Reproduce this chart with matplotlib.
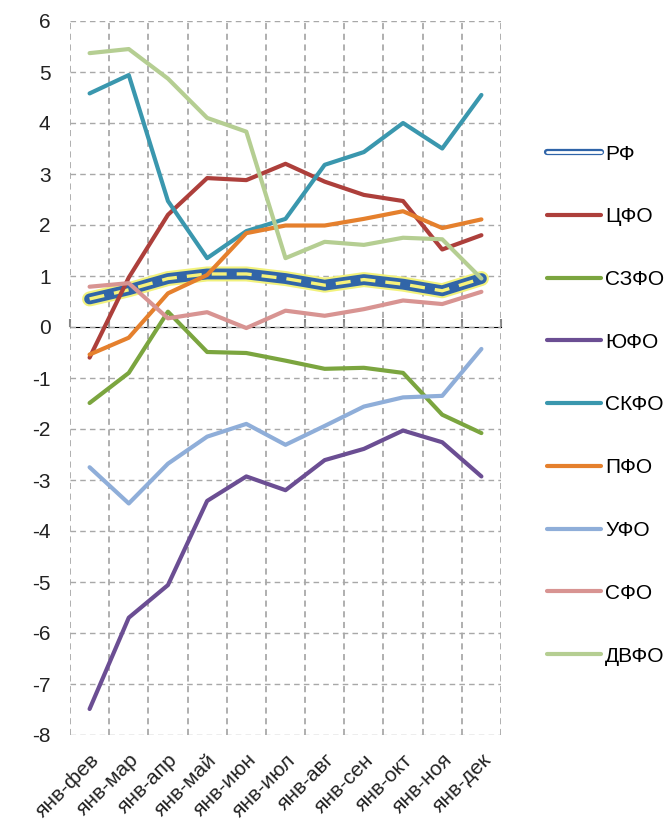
import matplotlib
matplotlib.use("Agg")
import matplotlib.pyplot as plt
import matplotlib.patheffects as pe
from matplotlib.lines import Line2D
import numpy as np

plt.rcParams['font.family'] = ['Liberation Sans', 'DejaVu Sans']
plt.rcParams['axes.unicode_minus'] = False

categories = ["янв-фев", "янв-мар", "янв-апр", "янв-май", "янв-июн", "янв-июл",
              "янв-авг", "янв-сен", "янв-окт", "янв-ноя", "янв-дек"]

rf    = [0.55, 0.73, 0.95, 1.04, 1.04, 0.95, 0.82, 0.93, 0.84, 0.71, 0.95]
cfo   = [-0.6, 0.97, 2.2, 2.92, 2.88, 3.2, 2.85, 2.59, 2.47, 1.52, 1.8]
szfo  = [-1.49, -0.9, 0.3, -0.49, -0.51, -0.66, -0.82, -0.8, -0.9, -1.72, -2.08]
yufo  = [-7.49, -5.7, -5.06, -3.41, -2.93, -3.2, -2.61, -2.39, -2.03, -2.26, -2.93]
skfo  = [4.58, 4.94, 2.47, 1.35, 1.88, 2.12, 3.18, 3.43, 4.0, 3.5, 4.55]
pfo   = [-0.54, -0.21, 0.66, 1.02, 1.84, 1.99, 1.99, 2.12, 2.27, 1.94, 2.11]
ufo   = [-2.75, -3.46, -2.68, -2.15, -1.9, -2.31, -1.94, -1.56, -1.38, -1.35, -0.43]
sfo   = [0.79, 0.86, 0.17, 0.29, -0.02, 0.32, 0.22, 0.35, 0.52, 0.45, 0.69]
dvfo  = [5.37, 5.45, 4.87, 4.1, 3.83, 1.35, 1.67, 1.61, 1.75, 1.72, 0.95]

series_names = ["ЦФО", "СЗФО", "ЮФО", "СКФО", "ПФО", "УФО", "СФО", "ДВФО"]
series_values = [cfo, szfo, yufo, skfo, pfo, ufo, sfo, dvfo]
series_colors = ["#AD3F3B", "#7BA53F", "#6B4E93", "#3A97AE", "#E5802D",
                 "#8FAED9", "#D89492", "#B5CE92"]

fig = plt.figure(figsize=(6.69, 8.19), dpi=100)
ax = fig.add_axes([70/669, 1-735/819, 431/669, 714/819])

x = np.arange(len(categories))
bounds = np.arange(-0.5, len(categories))
ymin, ymax = -8, 6

# grid
for b in bounds:
    ax.axvline(b, color='#9A9A9A', ls=(0, (4, 3)), lw=1.1, zorder=1, snap=True)
for yv in np.arange(ymin, ymax + 1):
    ax.axhline(yv, color='#A8A8A8', ls=(0, (4, 3)), lw=1, zorder=1, snap=True)

# RF line: glow, blue band, yellow dashes
ax.plot(x, rf, color="#3165A8", lw=7.8, solid_capstyle='round', solid_joinstyle='round', zorder=2,
        path_effects=[pe.Stroke(linewidth=10.8, foreground="#F2F27C"), pe.Normal()])
ax.plot(x, rf, color="#F6F27A", lw=2.4, dashes=(4.5, 3), zorder=2.1)

for vals, c in zip(series_values, series_colors):
    ax.plot(x, vals, color=c, lw=3, solid_capstyle='round', solid_joinstyle='round', zorder=3)

ax.set_xlim(-0.5, len(categories) - 0.5)
ax.set_ylim(ymin, ymax)
ax.set_yticks(np.arange(ymin, ymax + 1, 1))
ax.set_xticks(x)
ax.set_xticklabels(categories, rotation=45, ha='right', va='top', rotation_mode='anchor')
ax.tick_params(axis='x', which='both', length=0, labelsize=15, pad=11, colors='#222222')
ax.tick_params(axis='y', length=0, labelsize=15, pad=14, colors='#222222')

for s in ax.spines.values():
    s.set_visible(False)

# zero axis line with tick marks
sec = ax.secondary_xaxis((0 - ymin) / (ymax - ymin))
sec.set_xticks(bounds)
sec.set_xticklabels([])
sec.tick_params(axis='x', length=6, width=1.5, direction='out', color='#868686')
sec.spines['bottom'].set_color('#868686')
sec.spines['bottom'].set_linewidth(2)

# legend
handles = [Line2D([], [], color="#2F64A8", lw=4.5, solid_capstyle='round',
                  path_effects=[pe.Stroke(linewidth=4.5, foreground="#2F64A8"),
                                pe.Stroke(linewidth=2, foreground="white")])]
labels = ["РФ"]
for n, c in zip(series_names, series_colors):
    handles.append(Line2D([], [], color=c, lw=3, solid_capstyle='round'))
    labels.append(n)
fig.legend(handles, labels, loc='center left', bbox_to_anchor=(547/669, 1-405/819),
           frameon=False, fontsize=15, handlelength=2.6, handletextpad=0.2,
           labelspacing=2.1, borderpad=0, borderaxespad=0)

fig.savefig("out.png", dpi=100)
